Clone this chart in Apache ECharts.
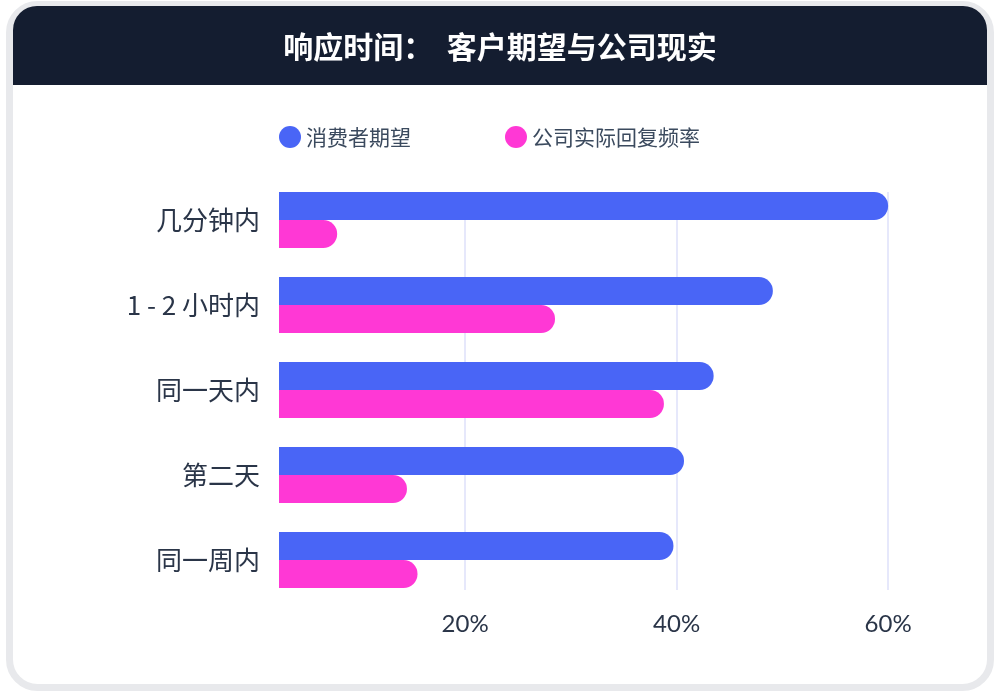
<!DOCTYPE html>
<html>
<head>
<meta charset="utf-8">
<script src="https://cdn.jsdelivr.net/npm/echarts@6/dist/echarts.min.js"></script>
<style>
html,body{margin:0;padding:0;background:#ffffff;}
#chart{width:1000px;height:696px;}
</style>
</head>
<body>
<div id="chart"></div>
<script>
var titleText = '响应时间：  客户期望与公司现实';
var categories = ['几分钟内', '1 - 2 小时内', '同一天内', '第二天', '同一周内'];
var seriesNames = ['消费者期望', '公司实际回复频率'];
var expectation = [60, 49.1, 43.5, 40.7, 39.7];
var actual = [7.9, 28.5, 38.8, 14.5, 15.5];
var tickValues = [20, 40, 60];

var FONT = '"Noto Sans CJK SC", "Noto Sans", sans-serif';
var BLUE = '#4965f6';
var PINK = '#ff38d5';
var axisMin = 2.4, axisMax = 65;

var chart = echarts.init(document.getElementById('chart'), null, {renderer: 'canvas'});
chart.setOption({
  animation: false,
  backgroundColor: '#ffffff',
  textStyle: {fontFamily: FONT},
  graphic: [
    {type: 'rect', z: 0, shape: {x: 9.5, y: 4.5, width: 981, height: 683, r: 28},
     style: {fill: '#ffffff', stroke: '#e8e9ec', lineWidth: 7}},
    {type: 'rect', z: 1, shape: {x: 13, y: 6, width: 974, height: 79, r: [24, 24, 0, 0]},
     style: {fill: '#141d30'}}
  ],
  title: {
    text: titleText,
    left: 'center',
    top: 27,
    textStyle: {color: '#ffffff', fontSize: 30, fontWeight: 'bold', fontFamily: FONT}
  },
  legend: {
    data: seriesNames,
    left: 274,
    top: 121,
    icon: 'circle',
    itemWidth: 22,
    itemHeight: 22,
    itemGap: 94,
    textStyle: {fontSize: 21, color: '#3b4a5e', fontFamily: FONT}
  },
  grid: [
    {left: 279, right: 59, top: 177.5, bottom: 93.5, containLabel: false},
    {left: 279, right: 59, top: 192, bottom: 106, containLabel: false}
  ],
  xAxis: [
    {type: 'value', gridIndex: 0, min: axisMin, max: axisMax, show: false, splitLine: {show: false}},
    {type: 'value', gridIndex: 1, min: axisMin, max: axisMax,
     axisLine: {show: false},
     axisTick: {show: false, customValues: tickValues},
     axisLabel: {customValues: tickValues, formatter: '{value}%', fontSize: 24, color: '#2a3548', margin: 22, fontFamily: 'Lato, "Noto Sans", sans-serif'},
     splitLine: {show: true, lineStyle: {color: '#e6e8fb', width: 2}}}
  ],
  yAxis: [
    {type: 'category', gridIndex: 0, data: categories, inverse: true,
     axisLine: {show: false}, axisTick: {show: false},
     axisLabel: {fontSize: 26, color: '#2a3548', margin: 19, fontFamily: FONT}},
    {type: 'category', gridIndex: 1, data: categories, inverse: true, show: false}
  ],
  series: [
    {name: seriesNames[0], type: 'bar', xAxisIndex: 0, yAxisIndex: 0, data: expectation,
     barWidth: 28, barGap: '0%', itemStyle: {color: BLUE, borderRadius: [0, 14, 14, 0]}},
    {name: seriesNames[1], type: 'bar', xAxisIndex: 0, yAxisIndex: 0, data: actual,
     barWidth: 28, barGap: '0%', itemStyle: {color: PINK, borderRadius: [0, 14, 14, 0]}}
  ]
});
</script>
</body>
</html>
